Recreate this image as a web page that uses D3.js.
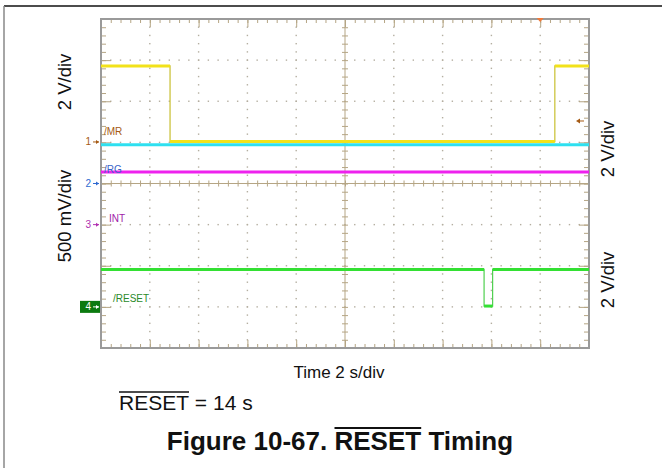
<!DOCTYPE html>
<html><head><meta charset="utf-8">
<script src="https://cdn.jsdelivr.net/npm/d3@7"></script>
<style>body{margin:0;background:#fff}svg{display:block}text{font-family:"Liberation Sans",Arial,sans-serif}</style>
</head><body><svg id="c" width="662" height="468"></svg>
<script>
// Time axis: 10 divisions of 2 s; vertical in screen divisions (-4..4)
const timeDomain = [0, 20];
const divDomain = [-4, 4];
// /MR (yellow)
const mrTime  = [0, 2.83, 2.83, 18.6, 18.6, 20];
const mrLevel = [2.86, 2.86, 1.02, 1.02, 2.86, 2.86];
// cyan trace
const cyTime  = [0, 20];
const cyLevel = [0.94, 0.94];
// magenta trace
const mgTime  = [0, 20];
const mgLevel = [0.28, 0.28];
// /RESET (green)
const rsTime  = [0, 15.7, 15.7, 16.05, 16.05, 20];
const rsLevel = [-2.09, -2.09, -2.98, -2.98, -2.09, -2.09];
// channel ground markers (divisions)
const markerLabels = ["1", "2", "3", "4"];
const markerLevels = [1.01, 0, -1.0, -3.0];
const chanNames = ["/MR", "/RG", "INT", "/RESET"];
const chanNameLevels = [1.28, 0.36, -0.84, -2.78];
const triggerTime = 18.0;
const triggerLevel = 1.52;

const svg = d3.select("#c");
const x = d3.scaleLinear().domain(timeDomain).range([101, 589]);
const y = d3.scaleLinear().domain(divDomain).range([348, 19]);

// outer frame
svg.append("line").attr("x1",4).attr("x2",662).attr("y1",6).attr("y2",6).attr("stroke","#111").attr("stroke-width",1.5);
svg.append("line").attr("x1",4).attr("x2",4).attr("y1",6).attr("y2",468).attr("stroke","#888").attr("stroke-width",1.5);

const tickCol = "#b5a584";
const minorX = d3.range(0, 20.001, 0.4), majorX = d3.range(0, 20.001, 2);
const minorY = d3.range(-4, 4.001, 0.2), majorY = d3.range(-4, 4.001, 1);

// dotted grid
const g = svg.append("g");
majorX.slice(1,-1).forEach(t => { if (t === 10) return;
  minorY.forEach(v => g.append("rect").attr("x", x(t)-0.7).attr("y", y(v)-0.7).attr("width",1.4).attr("height",1.4).attr("fill","#b4aea0"));
});
majorY.slice(1,-1).forEach(v => { if (v === 0) return;
  minorX.forEach(t => g.append("rect").attr("x", x(t)-0.7).attr("y", y(v)-0.7).attr("width",1.4).attr("height",1.4).attr("fill","#b4aea0"));
});

function ticks(axis, tr) {
  const a = svg.append("g").attr("transform", tr).call(axis);
  a.select(".domain").remove();
  a.selectAll("line").attr("stroke", tickCol).attr("stroke-width", 1);
}
// border ticks (inward)
ticks(d3.axisBottom(x).tickValues(minorX).tickSize(4).tickFormat(""), `translate(0,${y(4)})`);
ticks(d3.axisBottom(x).tickValues(majorX).tickSize(8).tickFormat(""), `translate(0,${y(4)})`);
ticks(d3.axisTop(x).tickValues(minorX).tickSize(4).tickFormat(""), `translate(0,${y(-4)})`);
ticks(d3.axisTop(x).tickValues(majorX).tickSize(8).tickFormat(""), `translate(0,${y(-4)})`);
ticks(d3.axisRight(y).tickValues(minorY).tickSize(5).tickFormat(""), `translate(${x(0)},0)`);
ticks(d3.axisRight(y).tickValues(majorY).tickSize(10).tickFormat(""), `translate(${x(0)},0)`);
ticks(d3.axisLeft(y).tickValues(minorY).tickSize(5).tickFormat(""), `translate(${x(20)},0)`);
ticks(d3.axisLeft(y).tickValues(majorY).tickSize(10).tickFormat(""), `translate(${x(20)},0)`);
// center cross
ticks(d3.axisBottom(x).tickValues(minorX).tickSize(6).tickFormat(""), `translate(0,${y(0)-3})`);
ticks(d3.axisRight(y).tickValues(minorY).tickSize(6).tickFormat(""), `translate(${x(10)-3},0)`);
svg.append("line").attr("x1",x(0)).attr("x2",x(20)).attr("y1",y(0)).attr("y2",y(0)).attr("stroke",tickCol);
svg.append("line").attr("x1",x(10)).attr("x2",x(10)).attr("y1",y(4)).attr("y2",y(-4)).attr("stroke",tickCol);

// plot border
svg.append("rect").attr("x",x(0)).attr("y",y(4)).attr("width",x(20)-x(0)).attr("height",y(-4)-y(4))
  .attr("fill","none").attr("stroke","#9a9a9a").attr("stroke-width",2);

// traces
const line = d3.line().x(d => x(d[0])).y(d => y(d[1]));
function trace(ts, vs, thin, thick) {
  const pts = ts.map((t,i) => [t, vs[i]]);
  svg.append("path").attr("d", line(pts)).attr("fill","none").attr("stroke",thin).attr("stroke-width",1.2);
  for (let i = 0; i < pts.length-1; i++) {
    if (pts[i][1] === pts[i+1][1] && pts[i][0] !== pts[i+1][0])
      svg.append("path").attr("d", line([pts[i], pts[i+1]])).attr("fill","none").attr("stroke",thick).attr("stroke-width",3);
  }
}
trace(cyTime, cyLevel, "#20d8ec", "#2ee0f0");
trace(mrTime, mrLevel, "#c8bf30", "#f2e21a");
trace(mgTime, mgLevel, "#e020e0", "#ee22ee");
trace(rsTime, rsLevel, "#50d050", "#33e033");

// channel names
const nameCols = ["#a55a14", "#3a64c8", "#a020a8", "#2a8a2a"];
const nameX = [104, 104, 109, 113];
chanNames.forEach((n,i) => svg.append("text").attr("x",nameX[i]).attr("y",y(chanNameLevels[i])+4).attr("font-size",10).attr("fill",nameCols[i]).text(n));

// ground markers
const markCols = ["#a55a14", "#2f6ad0", "#b030b0", "#0c7a10"];
markerLabels.forEach((m,i) => {
  const yy = y(markerLevels[i]);
  let txtCol = markCols[i];
  if (i === 3) {
    svg.append("rect").attr("x",80).attr("y",yy-6).attr("width",20).attr("height",12).attr("fill",markCols[i]);
    txtCol = "#fff";
  }
  svg.append("text").attr("x",91).attr("y",yy+3.5).attr("font-size",10).attr("text-anchor","end").attr("fill",txtCol).text(m);
  svg.append("line").attr("x1",93).attr("x2",99).attr("y1",yy).attr("y2",yy).attr("stroke",txtCol).attr("stroke-width",1);
  svg.append("path").attr("d",`M99,${yy} l-3,-2 l0,4 z`).attr("fill",txtCol);
});

// trigger markers
svg.append("path").attr("d",`M${x(triggerTime)-3.5},${y(4)-1} l7,0 l-3.5,4 z`).attr("fill","#f07a3a");
const ty = y(triggerLevel);
svg.append("line").attr("x1",578).attr("x2",584).attr("y1",ty).attr("y2",ty).attr("stroke","#a55a14");
svg.append("path").attr("d",`M576,${ty} l4,-2.5 l0,5 z`).attr("fill","#a55a14");

// axis unit labels
function vlabel(txt, cx, cy) {
  svg.append("text").attr("transform",`translate(${cx},${cy}) rotate(-90)`).attr("text-anchor","middle")
    .attr("dy","0.35em").attr("font-size",18.5).attr("fill","#111").text(txt);
}
vlabel("2 V/div", 65, 82);
vlabel("500 mV/div", 65, 216);
vlabel("2 V/div", 608, 149);
vlabel("2 V/div", 608, 280);

svg.append("text").attr("x",339).attr("y",378).attr("text-anchor","middle").attr("font-size",17).attr("fill","#111").text("Time 2 s/div");

// RESET = 14 s
const r1 = svg.append("text").attr("x",119).attr("y",410).attr("font-size",21).attr("fill","#111").text("RESET");
const w1 = r1.node().getComputedTextLength();
svg.append("text").attr("x",119+w1).attr("y",410).attr("font-size",21).attr("fill","#111").text("\u00a0= 14 s");
svg.append("line").attr("x1",119).attr("x2",119+w1).attr("y1",392).attr("y2",392).attr("stroke","#111").attr("stroke-width",1.3);

// Title
const title = svg.append("text").attr("x",340).attr("y",450).attr("text-anchor","middle").attr("font-size",26)
  .attr("font-weight","bold").attr("fill","#111").text("Figure 10-67. RESET Timing");
const tn = title.node();
const tw = tn.getComputedTextLength();
const s0 = 340 - tw/2 + tn.getSubStringLength(0, 14);
const s1 = tn.getSubStringLength(14, 5);
svg.append("line").attr("x1",s0).attr("x2",s0+s1).attr("y1",428).attr("y2",428).attr("stroke","#111").attr("stroke-width",2);
</script></body></html>
